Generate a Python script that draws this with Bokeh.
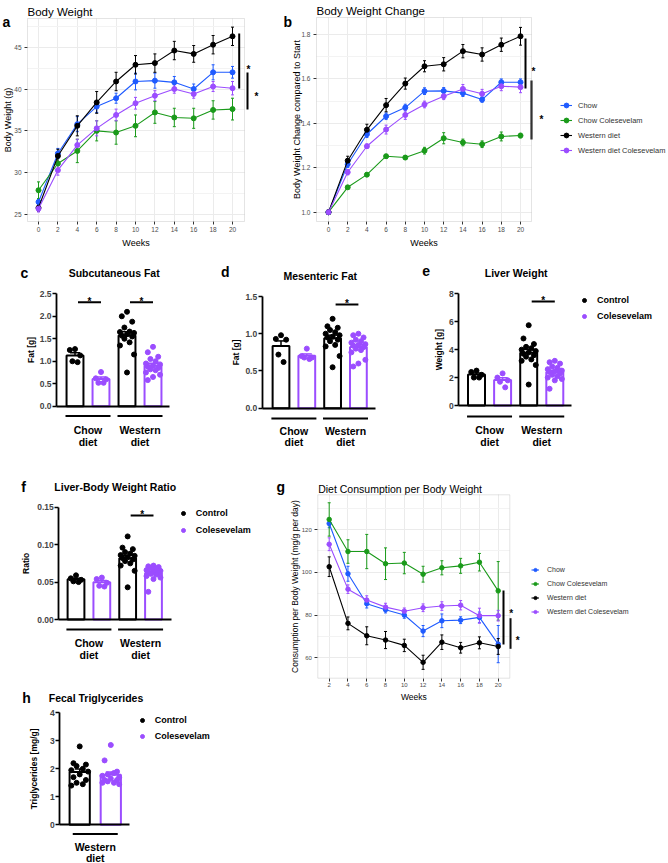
import numpy as np
from bokeh.plotting import figure
from bokeh.layouts import column, row
from bokeh.models import (Range1d, Legend, LegendItem, Whisker, TeeHead, BoxAnnotation,
                          ColumnDataSource, FixedTicker, SingleIntervalTicker, NumeralTickFormatter)
from bokeh.core.properties import value
from bokeh.embed import file_html
from bokeh.resources import INLINE

# ---------------- data ----------------
series_names = ["Chow", "Chow Colesevelam", "Western diet", "Western diet Colesevelam"]
series_colors = ["#1F5BFF", "#1A9A1A", "#000000", "#9B4DFF"]

weeks_bw = [0, 2, 4, 6, 8, 10, 12, 14, 16, 18, 20]
bw_chow = [26.5, 32.3, 35.8, 37.9, 38.9, 40.9, 41.0, 40.8, 40.0, 42.0, 42.0]
bw_chow_se = [0.3, 0.6, 0.9, 0.7, 0.6, 1.0, 0.9, 0.7, 0.6, 0.9, 0.7]
bw_chow_col = [27.9, 31.1, 32.6, 35.0, 34.8, 35.6, 37.2, 36.6, 36.5, 37.5, 37.6]
bw_chow_col_se = [1.0, 1.0, 1.4, 1.2, 1.4, 1.3, 1.3, 1.1, 1.2, 1.1, 1.3]
bw_west = [25.8, 32.0, 35.6, 38.4, 40.9, 42.9, 43.1, 44.6, 44.2, 45.3, 46.3]
bw_west_se = [0.4, 0.8, 1.2, 1.3, 1.1, 1.1, 1.1, 1.1, 1.0, 1.1, 1.1]
bw_west_col = [25.7, 30.3, 33.3, 35.3, 36.9, 38.3, 39.2, 40.0, 39.4, 40.3, 40.1]
bw_west_col_se = [0.4, 0.6, 0.7, 0.9, 0.7, 0.7, 0.6, 0.5, 0.5, 0.6, 0.8]

bwc_chow = [1.0, 1.216, 1.351, 1.432, 1.471, 1.545, 1.546, 1.536, 1.507, 1.585, 1.585]
bwc_chow_se = [0.0, 0.015, 0.015, 0.015, 0.015, 0.015, 0.015, 0.015, 0.012, 0.015, 0.015]
bwc_chow_col = [1.0, 1.112, 1.169, 1.252, 1.246, 1.277, 1.333, 1.314, 1.306, 1.341, 1.345]
bwc_chow_col_se = [0.0, 0.008, 0.008, 0.008, 0.008, 0.015, 0.025, 0.015, 0.015, 0.02, 0.01]
bwc_west = [1.0, 1.232, 1.371, 1.482, 1.579, 1.657, 1.666, 1.725, 1.710, 1.754, 1.792]
bwc_west_se = [0.0, 0.02, 0.025, 0.03, 0.025, 0.025, 0.03, 0.03, 0.03, 0.03, 0.04]
bwc_west_col = [1.0, 1.180, 1.297, 1.372, 1.438, 1.485, 1.522, 1.555, 1.533, 1.567, 1.563]
bwc_west_col_se = [0.0, 0.012, 0.01, 0.02, 0.02, 0.015, 0.015, 0.02, 0.02, 0.02, 0.025]

weeks_cons = [2, 4, 6, 8, 10, 12, 14, 16, 18, 20]
cons_chow = [122.8, 99.3, 85.3, 82.5, 80.0, 72.5, 77.3, 77.6, 78.9, 66.4]
cons_chow_se = [2.0, 3.5, 2.0, 1.5, 1.5, 2.6, 3.2, 1.6, 2.5, 8.7]
cons_chow_col = [124.7, 109.7, 109.7, 104.0, 104.3, 99.1, 102.1, 103.0, 104.7, 91.3]
cons_chow_col_se = [7.8, 5.5, 8.0, 7.4, 5.0, 3.7, 3.3, 3.5, 4.1, 13.7]
cons_west = [102.6, 76.1, 70.3, 68.3, 65.8, 57.9, 67.3, 64.7, 67.0, 65.3]
cons_west_se = [4.6, 3.0, 4.2, 4.0, 2.9, 3.3, 3.4, 2.5, 2.8, 3.7]
cons_west_col = [113.1, 92.1, 87.0, 83.7, 81.8, 83.4, 84.2, 84.6, 79.7, 79.7]
cons_west_col_se = [3.0, 2.0, 2.0, 1.8, 1.5, 1.8, 2.0, 2.2, 3.5, 2.5]

treatments = ["Control", "Colesevelam"]
diet_line1 = ["Chow", "Western"]
diet_line2 = ["diet", "diet"]

subq_chow_ctrl = [1.27, 1.25, 1.13, 1.00, 0.98]
subq_chow_col = [0.76, 0.62, 0.60, 0.52, 0.52]
subq_west_ctrl = [2.10, 2.00, 1.88, 1.75, 1.66, 1.65, 1.63, 1.60, 1.57, 1.55, 1.50, 1.42, 1.35, 1.15, 0.75]
subq_west_col = [1.32, 1.20, 1.10, 1.05, 1.00, 0.95, 0.93, 0.90, 0.88, 0.85, 0.82, 0.80, 0.75, 0.70, 0.65, 0.58]

mes_chow_ctrl = [0.98, 0.93, 0.92, 0.72, 0.62]
mes_chow_col = [0.80, 0.70, 0.68, 0.68, 0.66]
mes_west_ctrl = [1.20, 1.10, 1.08, 1.05, 1.02, 1.00, 0.98, 0.96, 0.95, 0.92, 0.90, 0.85, 0.83, 0.70, 0.55]
mes_west_col = [1.00, 0.98, 0.95, 0.92, 0.90, 0.88, 0.86, 0.85, 0.84, 0.82, 0.80, 0.78, 0.75, 0.65, 0.60, 0.56]

liver_chow_ctrl = [2.5, 2.4, 2.2, 2.0, 2.0]
liver_chow_col = [2.3, 2.0, 1.8, 1.7, 1.3]
liver_west_ctrl = [5.75, 4.8, 4.4, 4.2, 4.1, 4.0, 3.9, 3.8, 3.7, 3.6, 3.5, 3.3, 3.2, 2.9, 1.5]
liver_west_col = [3.2, 3.1, 3.0, 2.8, 2.7, 2.6, 2.5, 2.45, 2.4, 2.3, 2.2, 2.1, 2.0, 1.9, 1.8, 1.2]

ratio_chow_ctrl = [0.059, 0.055, 0.053, 0.051, 0.050]
ratio_chow_col = [0.056, 0.054, 0.049, 0.045, 0.044]
ratio_west_ctrl = [0.111, 0.096, 0.094, 0.090, 0.088, 0.086, 0.085, 0.083, 0.082, 0.080, 0.078, 0.075, 0.072, 0.065, 0.043]
ratio_west_col = [0.072, 0.071, 0.070, 0.069, 0.068, 0.066, 0.065, 0.064, 0.063, 0.062, 0.061, 0.060, 0.058, 0.056, 0.054, 0.037]

tg_west_ctrl = [2.8, 2.2, 2.15, 2.1, 2.0, 1.95, 1.9, 1.8, 1.7, 1.6, 1.5, 1.45, 1.4]
tg_west_col = [2.85, 2.3, 1.9, 1.8, 1.85, 1.75, 1.7, 1.65, 1.6, 1.6, 1.55, 1.5, 1.5, 1.45]

# ---------------- helpers ----------------
FONT = "Liberation Sans"
PURPLE = "#9B4DFF"
JIT = [0.0, -0.2, 0.2, -0.1, 0.1, -0.27, 0.27]


def cal_range(v1, p1, v2, p2, lo, hi):
    k = (v2 - v1) / (p2 - p1)
    return v1 + (lo - p1) * k, v1 + (hi - p1) * k


class Panel:
    """A figure whose frame fills the whole canvas; positions given in page pixels."""

    def __init__(self, X0, Y0, W, H, xcal, ycal):
        self.frame = (X0, Y0, X0 + W, Y0 + H)
        fx0, fy0, fx1, fy1 = self.frame
        self.xa, self.xb = cal_range(*xcal, fx0, fx1)
        self.ya, self.yb = cal_range(*ycal, fy1, fy0)
        self.sx = (fx1 - fx0) / (self.xb - self.xa)
        self.sy = (fy1 - fy0) / (self.yb - self.ya)
        p = figure(width=W, height=H, x_range=Range1d(self.xa, self.xb),
                   y_range=Range1d(self.ya, self.yb),
                   min_border_left=0, min_border_right=0, min_border_top=0, min_border_bottom=0,
                   toolbar_location=None, output_backend="svg", title=None)
        p.background_fill_color = "white"
        p.border_fill_color = "white"
        p.outline_line_color = None
        self.p = p

    def dx(self, X):
        return self.xa + (X - self.frame[0]) / self.sx

    def dy(self, Y):
        return self.ya + (self.frame[3] - Y) / self.sy

    def txt(self, X, Y, text, size, bold=False, align="left", color="black", angle=0.0,
            baseline="alphabetic"):
        self.p.text(x=[self.dx(X)], y=[self.dy(Y)], text=[text], text_font=value(FONT),
                    text_font_size=f"{size}px", text_font_style="bold" if bold else "normal",
                    text_align=align, text_baseline=baseline, text_color=color, angle=angle)

    def vline(self, X, Ya, Yb, width=2):
        self.p.segment(x0=[self.dx(X)], y0=[self.dy(Ya)], x1=[self.dx(X)], y1=[self.dy(Yb)],
                       line_width=width, line_color="black")

    def star(self, X, Yc, size=10):
        self.txt(X, Yc + 0.58 * size, "*", size, bold=True, align="center")

    def legend(self, items, left_px, bottom_px, fs, bold, gw, gh, spacing, standoff, color):
        fx0, fy0, fx1, fy1 = self.frame
        lg = Legend(items=items, location=(left_px - fx0, fy1 - bottom_px), padding=0, margin=0,
                    spacing=spacing, glyph_width=gw, glyph_height=gh, label_height=gh,
                    label_standoff=standoff, label_text_font=FONT,
                    label_text_font_size=f"{fs}px",
                    label_text_font_style="bold" if bold else "normal", label_text_color=color,
                    border_line_color=None, background_fill_alpha=0)
        self.p.add_layout(lg)


def line_panel(pn, panel_px, weeks, series, xlabel, ylabel, ylab_x, weeks_baseline, yint, yfmt,
               tick_fs, lab_fs, msize):
    p = pn.p
    L, T, R, Bm = panel_px
    xb = (pn.dx(L), pn.dx(R))
    yb = (pn.dy(Bm), pn.dy(T))
    items = []
    for name, vals, errs, color in series:
        v = np.array(vals, dtype=float)
        e = np.array(errs, dtype=float)
        src = ColumnDataSource(dict(x=weeks, y=vals, lo=list(v - e), hi=list(v + e)))
        rl = p.line("x", "y", source=src, line_color=color, line_width=1.1)
        rs = p.scatter("x", "y", source=src, size=msize, fill_color=color, line_color=color)
        p.add_layout(Whisker(source=src, base="x", upper="hi", lower="lo", line_color=color,
                             line_width=1,
                             upper_head=TeeHead(size=3, line_color=color, line_width=1),
                             lower_head=TeeHead(size=3, line_color=color, line_width=1)))
        items.append(LegendItem(label=name, renderers=[rl, rs]))
    xt = SingleIntervalTicker(interval=2, num_minor_ticks=0)
    yt = SingleIntervalTicker(interval=yint, num_minor_ticks=2)
    xa = p.xaxis[0]
    ya = p.yaxis[0]
    xa.ticker = xt
    ya.ticker = yt
    xa.fixed_location = yb[0]
    ya.fixed_location = xb[0]
    xa.bounds = xb
    ya.bounds = yb
    if yfmt:
        ya.formatter = NumeralTickFormatter(format=yfmt)
    for ax in (xa, ya):
        ax.axis_line_color = None
        ax.major_tick_line_color = "#333333"
        ax.major_tick_out = 3
        ax.major_tick_in = 0
        ax.minor_tick_line_color = None
        ax.major_label_text_font = FONT
        ax.major_label_text_font_size = f"{tick_fs}px"
        ax.major_label_text_color = "#4D4D4D"
        ax.major_label_standoff = 2
    gx = p.xgrid[0]
    gy = p.ygrid[0]
    gx.ticker = xt
    gy.ticker = yt
    gx.bounds = xb
    gy.bounds = yb
    gx.grid_line_color = "#EBEBEB"
    gy.grid_line_color = "#EBEBEB"
    gy.minor_grid_line_color = "#F3F3F3"
    try:
        gx.cross_bounds = yb
        gy.cross_bounds = xb
    except Exception:
        pass
    p.add_layout(BoxAnnotation(left=xb[0], right=xb[1], bottom=yb[0], top=yb[1],
                               fill_alpha=0, line_color="#A6A6A6", line_width=1))
    pn.txt((L + R) / 2, weeks_baseline, xlabel, lab_fs, align="center")
    pn.txt(ylab_x, (T + Bm) / 2, ylabel, lab_fs, align="center", angle=np.pi / 2,
           baseline="middle")
    return items


def bar_panel(pn, groups, ylabel, ylab_x, yticks, yfmt, axis_px, axis_end_px, sigs, line_px,
              t1_px, t2_px, group_centers, bar_w=0.65, legend=None):
    p = pn.p
    n = len(groups)
    pos = list(range(1, n + 1))
    colors = ["black" if i % 2 == 0 else PURPLE for i in range(n)]
    means = [float(np.mean(g)) for g in groups]
    sems = [float(np.std(g, ddof=1) / np.sqrt(len(g))) for g in groups]
    p.vbar(x=pos, top=means, bottom=0, width=bar_w, fill_color="white", line_color=colors,
           line_width=2)
    cx, cy, px_, py_ = [], [], [], []
    for i, g in enumerate(groups):
        for k, val in enumerate(g):
            xx = pos[i] + JIT[k % len(JIT)]
            if i % 2 == 0:
                cx.append(xx)
                cy.append(val)
            else:
                px_.append(xx)
                py_.append(val)
    r_ctrl = p.scatter(cx, cy, size=5, fill_color="black", line_color="black")
    r_col = p.scatter(px_, py_, size=5, fill_color=PURPLE, line_color=PURPLE)
    for i in range(n):
        src = ColumnDataSource(dict(x=[pos[i]], lo=[means[i] - sems[i]], hi=[means[i] + sems[i]]))
        p.add_layout(Whisker(source=src, base="x", upper="hi", lower="lo", line_color=colors[i],
                             line_width=1.5,
                             upper_head=TeeHead(size=10, line_color=colors[i], line_width=1.5),
                             lower_head=TeeHead(size=10, line_color=colors[i], line_width=1.5)))
    p.grid.visible = False
    ya = p.yaxis[0]
    ya.fixed_location = pn.dx(axis_px)
    ya.ticker = FixedTicker(ticks=yticks)
    ya.bounds = (0, yticks[-1])
    ya.formatter = NumeralTickFormatter(format=yfmt)
    ya.axis_line_width = 1.8
    ya.axis_line_color = "black"
    ya.major_tick_out = 4
    ya.major_tick_in = 0
    ya.major_tick_line_width = 1.5
    ya.minor_tick_line_color = None
    ya.major_label_text_font = FONT
    ya.major_label_text_font_size = "8.5px"
    ya.major_label_text_font_style = "bold"
    ya.major_label_standoff = 1
    xa = p.xaxis[0]
    xa.fixed_location = 0
    xa.ticker = FixedTicker(ticks=[])
    xa.bounds = (pn.dx(axis_px), pn.dx(axis_end_px))
    xa.axis_line_width = 1.8
    xa.axis_line_color = "black"
    xa.major_tick_line_color = None
    xa.minor_tick_line_color = None
    xa.major_label_text_font_size = "0px"
    y0px = pn.frame[3] - (0 - pn.ya) * pn.sy
    ytop_px = pn.frame[3] - (yticks[-1] - pn.ya) * pn.sy
    pn.txt(ylab_x, (y0px + ytop_px) / 2, ylabel, 8.5, bold=True, align="center",
           angle=np.pi / 2, baseline="middle")
    for a, b, ypx in sigs:
        y = pn.dy(ypx)
        x0 = a + 3 / pn.sx
        x1 = b
        p.segment(x0=[x0], y0=[y], x1=[x1], y1=[y], line_width=2, line_color="black")
        p.text(x=[(x0 + x1) / 2], y=[y], text=["*"], text_font=value(FONT),
               text_font_size="10px", text_font_style="bold", text_align="center",
               text_baseline="alphabetic", y_offset=-1)
    hw = 22.5 / pn.sx
    gl = pn.dy(line_px)
    ng = len(group_centers)
    p.segment(x0=[c - hw for c in group_centers], y0=[gl] * ng,
              x1=[c + hw for c in group_centers], y1=[gl] * ng,
              line_width=2, line_color="black")
    l1 = diet_line1[-ng:]
    l2 = diet_line2[-ng:]
    for labels, tpx in ((l1, t1_px), (l2, t2_px)):
        p.text(x=group_centers, y=[pn.dy(tpx)] * ng, text=labels, text_font=value(FONT),
               text_font_size="10.5px", text_font_style="bold", text_align="center",
               text_baseline="alphabetic")
    if legend is not None:
        left_px, bottom_px, spacing = legend
        items = [LegendItem(label=treatments[0], renderers=[r_ctrl]),
                 LegendItem(label=treatments[1], renderers=[r_col])]
        pn.legend(items, left_px, bottom_px, 9, True, 10, 12, spacing, 8, "black")


def four(vals_list, se_list):
    return [(series_names[i], vals_list[i], se_list[i], series_colors[i]) for i in range(4)]


# ---------------- panel a ----------------
A = Panel(0, 0, 283, 250, (0, 38, 20, 232), (25, 214, 45, 46.7))
line_panel(A, (27, 18, 244, 221), weeks_bw,
           four([bw_chow, bw_chow_col, bw_west, bw_west_col],
                [bw_chow_se, bw_chow_col_se, bw_west_se, bw_west_col_se]),
           "Weeks", "Body Weight (g)", 7, 242.3, 5, None, 6.5, 9, 5)
A.txt(27, 11, "Body Weight", 11.5)
A.txt(2, 21.7, "a", 14, bold=True)
A.vline(238.7, 33, 88)
A.star(248, 63)
A.vline(247, 72, 109)
A.star(256, 90)

# ---------------- panel b ----------------
B = Panel(283, 0, 385, 250, (0, 328, 20, 520), (1.0, 211.7, 1.8, 34))
items_b = line_panel(B, (316, 17, 531, 221), weeks_bw,
                     four([bwc_chow, bwc_chow_col, bwc_west, bwc_west_col],
                          [bwc_chow_se, bwc_chow_col_se, bwc_west_se, bwc_west_col_se]),
                     "Weeks", "Body Weight Change compared to Start", 296, 242.3, 0.2, "0.0",
                     6.5, 9, 5)
B.txt(316, 10.8, "Body Weight Change", 11.5)
B.txt(283, 21.7, "b", 14, bold=True)
B.vline(525, 38, 88)
B.star(533, 65)
B.vline(531, 80, 139)
B.star(541, 113)
B.legend(items_b, 560, 156, 7.5, False, 12, 12, 3, 6, "#333333")

# ---------------- panel c ----------------
C = Panel(0, 250, 212, 198, (1, 74.5, 2, 100.5), (0, 405.7, 2.5, 293.3))
bar_panel(C, [subq_chow_ctrl, subq_chow_col, subq_west_ctrl, subq_west_col], "Fat [g]", 30,
          [0, 0.5, 1.0, 1.5, 2.0, 2.5], "0.0", 56, 169, [(1, 2, 301.7), (3, 4, 301.7)],
          415.5, 429.5, 441.2, [1.5, 3.5])
C.txt(113.7, 272, "Subcutaneous Fat", 10.5, bold=True, align="center")
C.txt(20, 272, "c", 14, bold=True)

# ---------------- panel d ----------------
D = Panel(212, 250, 200, 198, (1, 280.5, 2, 306.3), (0, 407.7, 1.5, 296))
bar_panel(D, [mes_chow_ctrl, mes_chow_col, mes_west_ctrl, mes_west_col], "Fat [g]", 235.5,
          [0, 0.5, 1.0, 1.5], "0.0", 261.7, 375, [(3, 4, 304)],
          418, 430.5, 441.8, [1.5, 3.5])
D.txt(319.8, 275, "Mesenteric Fat", 10.5, bold=True, align="center")
D.txt(220.5, 271.5, "d", 14, bold=True)

# ---------------- panel e ----------------
E = Panel(412, 250, 256, 198, (1, 476, 2, 502.1), (0, 405, 8, 293.3))
bar_panel(E, [liver_chow_ctrl, liver_chow_col, liver_west_ctrl, liver_west_col], "Weight [g]",
          438.8, [0, 2, 4, 6, 8], "0", 458.3, 570.7, [(3, 4, 301)],
          416, 429.5, 441.2, [1.5, 3.5], legend=(579, 322, 4))
E.txt(515.7, 272, "Liver Weight", 10.5, bold=True, align="center")
E.txt(421.7, 270.7, "e", 14, bold=True)

# ---------------- panel f ----------------
F = Panel(0, 448, 255, 232, (1, 75.5, 2, 101.33), (0, 619, 0.15, 506.7))
bar_panel(F, [ratio_chow_ctrl, ratio_chow_col, ratio_west_ctrl, ratio_west_col], "Ratio", 25,
          [0, 0.05, 0.10, 0.15], "0.00", 58.3, 170.7, [(3, 4, 515)],
          629, 642.5, 654, [1.5, 3.5], legend=(177.7, 535.7, 5))
F.txt(114.7, 486, "Liver-Body Weight Ratio", 10.5, bold=True, align="center")
F.txt(20.7, 486.7, "f", 14, bold=True)

# ---------------- panel h ----------------
Hh = Panel(0, 680, 255, 183, (1, 79.2, 2, 110.3), (0, 824.3, 4, 712.3))
bar_panel(Hh, [tg_west_ctrl, tg_west_col], "Triglycerides [mg/g]", 33.3,
          [0, 1, 2, 3, 4], "0", 59.3, 129.3, [],
          833.5, 846.5, 857.5, [1.5], legend=(136.7, 742, 4))
Hh.txt(95.5, 697.3, "Fecal Triglycerides", 10.5, bold=True, align="center")
Hh.txt(21.7, 697, "h", 14, bold=True)

# ---------------- panel g ----------------
G = Panel(255, 448, 413, 415, (2, 328.7, 20, 497.7), (60, 657.3, 120, 529))
items_g = line_panel(G, (317.3, 494.3, 509.3, 677.7), weeks_cons,
                     four([cons_chow, cons_chow_col, cons_west, cons_west_col],
                          [cons_chow_se, cons_chow_col_se, cons_west_se, cons_west_col_se]),
                     "Weeks", "Consumption per Body Weight (mg/g per day)", 294, 696, 20, None,
                     6, 8.5, 4.5)
G.txt(317.7, 488, "Diet Consumption per Body Weight", 10.5)
G.txt(276, 486, "g", 14, bold=True)
G.vline(503, 590, 644)
G.star(510.7, 607.3)
G.vline(510, 617.7, 648.3)
G.star(517.3, 634)
G.legend(items_g, 531, 617, 7, False, 8, 11, 3, 8, "#333333")

layout = column(row(A.p, B.p), row(C.p, D.p, E.p), row(column(F.p, Hh.p), G.p))
open("out.html", "w").write(file_html(layout, INLINE))
